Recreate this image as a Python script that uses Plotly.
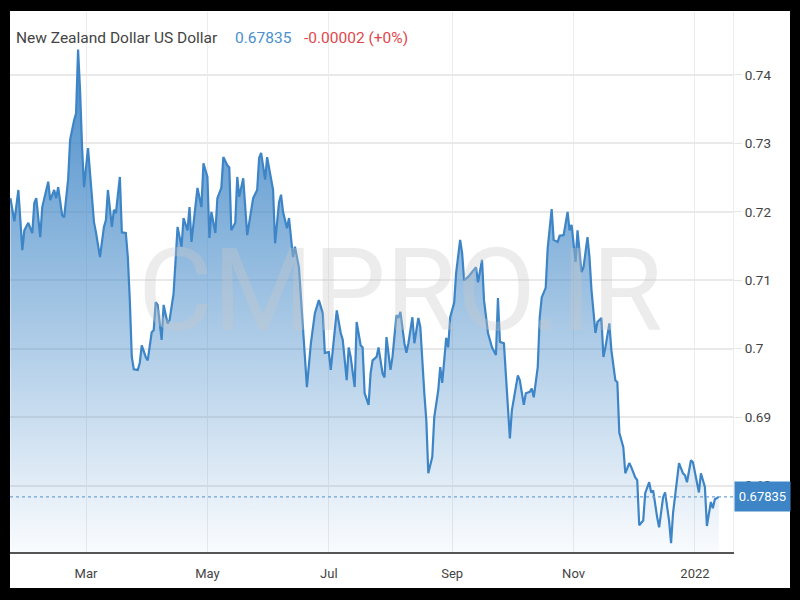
import plotly.graph_objects as go

dates = [
    "2021-01-22", "2021-01-24", "2021-01-26", "2021-01-28", "2021-01-29", "2021-01-31",
    "2021-02-02", "2021-02-03", "2021-02-04", "2021-02-06", "2021-02-07", "2021-02-10",
    "2021-02-11", "2021-02-13", "2021-02-14", "2021-02-15", "2021-02-17", "2021-02-18",
    "2021-02-20", "2021-02-21", "2021-02-23", "2021-02-24", "2021-02-25", "2021-02-26",
    "2021-02-27", "2021-02-28", "2021-03-01", "2021-03-02", "2021-03-03", "2021-03-05",
    "2021-03-06", "2021-03-08", "2021-03-10", "2021-03-11", "2021-03-12", "2021-03-14",
    "2021-03-15", "2021-03-16", "2021-03-18", "2021-03-19", "2021-03-21", "2021-03-22",
    "2021-03-23", "2021-03-24", "2021-03-25", "2021-03-27", "2021-03-28", "2021-03-29",
    "2021-03-31", "2021-04-01", "2021-04-03", "2021-04-04", "2021-04-05", "2021-04-06",
    "2021-04-08", "2021-04-09", "2021-04-11", "2021-04-12", "2021-04-14", "2021-04-15",
    "2021-04-16", "2021-04-18", "2021-04-19", "2021-04-21", "2021-04-22", "2021-04-23",
    "2021-04-25", "2021-04-26", "2021-04-28", "2021-04-29", "2021-05-01", "2021-05-02",
    "2021-05-03", "2021-05-05", "2021-05-06", "2021-05-08", "2021-05-09", "2021-05-11",
    "2021-05-12", "2021-05-13", "2021-05-15", "2021-05-16", "2021-05-17", "2021-05-19",
    "2021-05-21", "2021-05-23", "2021-05-24", "2021-05-26", "2021-05-27", "2021-05-28",
    "2021-05-30", "2021-05-31", "2021-06-02", "2021-06-03", "2021-06-04", "2021-06-06",
    "2021-06-07", "2021-06-08", "2021-06-10", "2021-06-11", "2021-06-13", "2021-06-14",
    "2021-06-16", "2021-06-18", "2021-06-20", "2021-06-22", "2021-06-24", "2021-06-26",
    "2021-06-28", "2021-06-29", "2021-07-01", "2021-07-02", "2021-07-04", "2021-07-05",
    "2021-07-07", "2021-07-08", "2021-07-10", "2021-07-11", "2021-07-12", "2021-07-14",
    "2021-07-15", "2021-07-17", "2021-07-18", "2021-07-19", "2021-07-21", "2021-07-22",
    "2021-07-23", "2021-07-25", "2021-07-26", "2021-07-28", "2021-07-29", "2021-07-30",
    "2021-08-01", "2021-08-02", "2021-08-04", "2021-08-05", "2021-08-06", "2021-08-08",
    "2021-08-09", "2021-08-10", "2021-08-12", "2021-08-13", "2021-08-15", "2021-08-16",
    "2021-08-18", "2021-08-19", "2021-08-20", "2021-08-22", "2021-08-23", "2021-08-25",
    "2021-08-26", "2021-08-27", "2021-08-29", "2021-08-30", "2021-08-31", "2021-09-02",
    "2021-09-03", "2021-09-05", "2021-09-06", "2021-09-07", "2021-09-09", "2021-09-11",
    "2021-09-13", "2021-09-14", "2021-09-16", "2021-09-17", "2021-09-19", "2021-09-21",
    "2021-09-23", "2021-09-24", "2021-09-25", "2021-09-27", "2021-09-28", "2021-09-30",
    "2021-10-01", "2021-10-03", "2021-10-04", "2021-10-05", "2021-10-07", "2021-10-08",
    "2021-10-10", "2021-10-11", "2021-10-12", "2021-10-14", "2021-10-15", "2021-10-16",
    "2021-10-18", "2021-10-19", "2021-10-21", "2021-10-22", "2021-10-24", "2021-10-25",
    "2021-10-27", "2021-10-29", "2021-10-30", "2021-10-31", "2021-11-02", "2021-11-03",
    "2021-11-05", "2021-11-06", "2021-11-08", "2021-11-09", "2021-11-10", "2021-11-12",
    "2021-11-13", "2021-11-15", "2021-11-16", "2021-11-17", "2021-11-19", "2021-11-20",
    "2021-11-22", "2021-11-23", "2021-11-24", "2021-11-26", "2021-11-27", "2021-11-29",
    "2021-11-30", "2021-12-02", "2021-12-03", "2021-12-04", "2021-12-06", "2021-12-07",
    "2021-12-09", "2021-12-10", "2021-12-11", "2021-12-13", "2021-12-14", "2021-12-16",
    "2021-12-17", "2021-12-19", "2021-12-20", "2021-12-21", "2021-12-23", "2021-12-24",
    "2021-12-26", "2021-12-27", "2021-12-28", "2021-12-30", "2021-12-31", "2022-01-02",
    "2022-01-03", "2022-01-04", "2022-01-06", "2022-01-07", "2022-01-09", "2022-01-10",
    "2022-01-11", "2022-01-13",
]

rates = [
    0.7220, 0.7186, 0.7232, 0.7144, 0.7173, 0.7184,
    0.7169, 0.7213, 0.7220, 0.7163, 0.7207, 0.7244,
    0.7217, 0.7232, 0.7220, 0.7236, 0.7195, 0.7192,
    0.7247, 0.7305, 0.7334, 0.7344, 0.7437, 0.7378,
    0.7295, 0.7236, 0.7265, 0.7293, 0.7257, 0.7185,
    0.7170, 0.7134, 0.7178, 0.7188, 0.7232, 0.7178,
    0.7203, 0.7198, 0.7251, 0.7170, 0.7169, 0.7134,
    0.7071, 0.6988, 0.6970, 0.6969, 0.6979, 0.7005,
    0.6988, 0.6983, 0.7024, 0.7027, 0.7068, 0.7064,
    0.7013, 0.7064, 0.7037, 0.7042, 0.7081, 0.7140,
    0.7178, 0.7149, 0.7191, 0.7173, 0.7207, 0.7156,
    0.7203, 0.7235, 0.7207, 0.7271, 0.7251, 0.7162,
    0.7200, 0.7169, 0.7220, 0.7235, 0.7280, 0.7268,
    0.7265, 0.7173, 0.7184, 0.7251, 0.7222, 0.7249,
    0.7166, 0.7200, 0.7220, 0.7232, 0.7279, 0.7286,
    0.7247, 0.7280, 0.7251, 0.7232, 0.7154, 0.7214,
    0.7225, 0.7200, 0.7176, 0.7191, 0.7134, 0.7149,
    0.7119, 0.7032, 0.6944, 0.7008, 0.7052, 0.7071,
    0.7052, 0.6994, 0.6995, 0.6969, 0.7032, 0.7056,
    0.7023, 0.7013, 0.6954, 0.7002, 0.6988, 0.6944,
    0.7039, 0.7005, 0.7002, 0.6935, 0.6918, 0.6964,
    0.6983, 0.6988, 0.7002, 0.6964, 0.6958, 0.7017,
    0.6969, 0.6988, 0.7049, 0.7045, 0.7054, 0.7008,
    0.6994, 0.7008, 0.7046, 0.7008, 0.7045, 0.7032,
    0.6935, 0.6896, 0.6818, 0.6842, 0.6900, 0.6939,
    0.6973, 0.6950, 0.7016, 0.7002, 0.7046, 0.7067,
    0.7111, 0.7159, 0.7140, 0.7100, 0.7105, 0.7112,
    0.7119, 0.7097, 0.7130, 0.7071, 0.7023, 0.7002,
    0.6991, 0.7074, 0.7010, 0.7008, 0.6958, 0.6869,
    0.6910, 0.6944, 0.6961, 0.6954, 0.6918, 0.6935,
    0.6937, 0.6942, 0.6929, 0.6973, 0.7046, 0.7075,
    0.7089, 0.7147, 0.7204, 0.7159, 0.7156, 0.7165,
    0.7166, 0.7200, 0.7173, 0.7181, 0.7127, 0.7173,
    0.7112, 0.7119, 0.7163, 0.7134, 0.7086, 0.7023,
    0.7039, 0.7045, 0.6988, 0.7002, 0.7037, 0.6998,
    0.6954, 0.6951, 0.6877, 0.6856, 0.6818, 0.6833,
    0.6827, 0.6812, 0.6808, 0.6742, 0.6749, 0.6789,
    0.6805, 0.6790, 0.6793, 0.6754, 0.6739, 0.6783,
    0.6790, 0.6749, 0.6716, 0.6760, 0.6805, 0.6833,
    0.6818, 0.6815, 0.6805, 0.6837, 0.6834, 0.6808,
    0.6790, 0.6818, 0.6798, 0.6741, 0.6776, 0.6767,
    0.6780, 0.67835,
]

x_tick_vals = ["2021-03-01", "2021-05-01", "2021-07-01", "2021-09-01", "2021-11-01", "2022-01-01"]
x_tick_text = ["Mar", "May", "Jul", "Sep", "Nov", "2022"]
y_tick_vals = [0.68, 0.69, 0.70, 0.71, 0.72, 0.73, 0.74]
y_tick_text = ["0.68", "0.69", "0.7", "0.71", "0.72", "0.73", "0.74"]

title_name = "New Zealand Dollar US Dollar"
last_price = 0.67835
last_price_text = "0.67835"
change_text = "-0.00002 (+0%)"
watermark = "CMPRO.IR"

x_range = ["2021-01-21 19:00", "2022-01-20 03:00"]
y_range = [0.6703, 0.7492]

W, H = 800, 600
FONT = "Roboto, Arial, sans-serif"
BLUE = "#3d85c6"

fig = go.Figure()
fig.add_trace(go.Scatter(
    x=dates, y=rates, mode="lines",
    line=dict(color=BLUE, width=2.2),
    fill="tozeroy",
    fillgradient=dict(
        type="vertical",
        colorscale=[[0, "rgba(61,133,198,0.03)"], [1, "rgba(61,133,198,0.95)"]],
        start=y_range[0], stop=max(rates),
    ),
    hoverinfo="x+y",
))

fig.update_layout(
    width=W, height=H,
    margin=dict(l=0, r=0, t=0, b=0),
    paper_bgcolor="black",
    plot_bgcolor="white",
    showlegend=False,
    font=dict(family=FONT, color="#444"),
    xaxis=dict(
        domain=[10 / W, 733 / W],
        range=x_range, type="date",
        tickvals=x_tick_vals, ticktext=x_tick_text,
        showgrid=True, gridcolor="#ececec", gridwidth=1,
        showline=True, linecolor="#555", linewidth=1.5,
        ticks="outside", ticklen=9, tickcolor="rgba(0,0,0,0)",
        tickfont=dict(size=13, color="#444", family=FONT),
        zeroline=False, fixedrange=True,
    ),
    yaxis=dict(
        domain=[1 - 552 / H, 1 - 12 / H],
        range=y_range, side="right",
        tickvals=y_tick_vals, ticktext=y_tick_text,
        showgrid=True, gridcolor="#e9e9e9", gridwidth=1.5,
        showline=True, linecolor="#ececec", linewidth=1,
        ticks="outside", ticklen=8, tickcolor="#e6e6e6",
        tickfont=dict(size=13.5, color="#444", family=FONT),
        zeroline=False, fixedrange=True,
    ),
    shapes=[
        dict(type="rect", xref="paper", yref="paper",
             x0=10 / W, x1=790 / W, y0=1 - 588 / H, y1=1 - 11 / H,
             fillcolor="white", line=dict(width=0), layer="below"),
        dict(type="line", xref="paper", yref="y",
             x0=10 / W, x1=733 / W, y0=last_price, y1=last_price,
             line=dict(color="#6fa3d8", width=1.2, dash="dot")),
    ],
    annotations=[
        dict(text=watermark, xref="paper", yref="paper", x=400 / W, y=1 - 290 / H,
             showarrow=False, xanchor="center", yanchor="middle",
             font=dict(family=FONT, size=115, color="rgba(200,200,200,0.35)")),
        dict(text=title_name, xref="paper", yref="paper", x=14 / W, y=1 - 38 / H,
             showarrow=False, xanchor="left", yanchor="middle",
             font=dict(family=FONT, size=15.5, color="#444")),
        dict(text=last_price_text, xref="paper", yref="paper", x=233 / W, y=1 - 38 / H,
             showarrow=False, xanchor="left", yanchor="middle",
             font=dict(family=FONT, size=15.5, color="#4a8fd1")),
        dict(text=change_text, xref="paper", yref="paper", x=302 / W, y=1 - 38 / H,
             showarrow=False, xanchor="left", yanchor="middle",
             font=dict(family=FONT, size=15.5, color="#e0474c")),
        dict(text=last_price_text, xref="paper", yref="y", x=762.5 / W, y=last_price,
             showarrow=False, xanchor="center", yanchor="middle",
             width=51, height=25, borderpad=2, bgcolor=BLUE,
             font=dict(family=FONT, size=13, color="white")),
    ],
)

fig.write_html(
    "out.html",
    config={"displayModeBar": False},
    post_script="document.body.style.margin='0';document.body.style.overflow='hidden';",
)
